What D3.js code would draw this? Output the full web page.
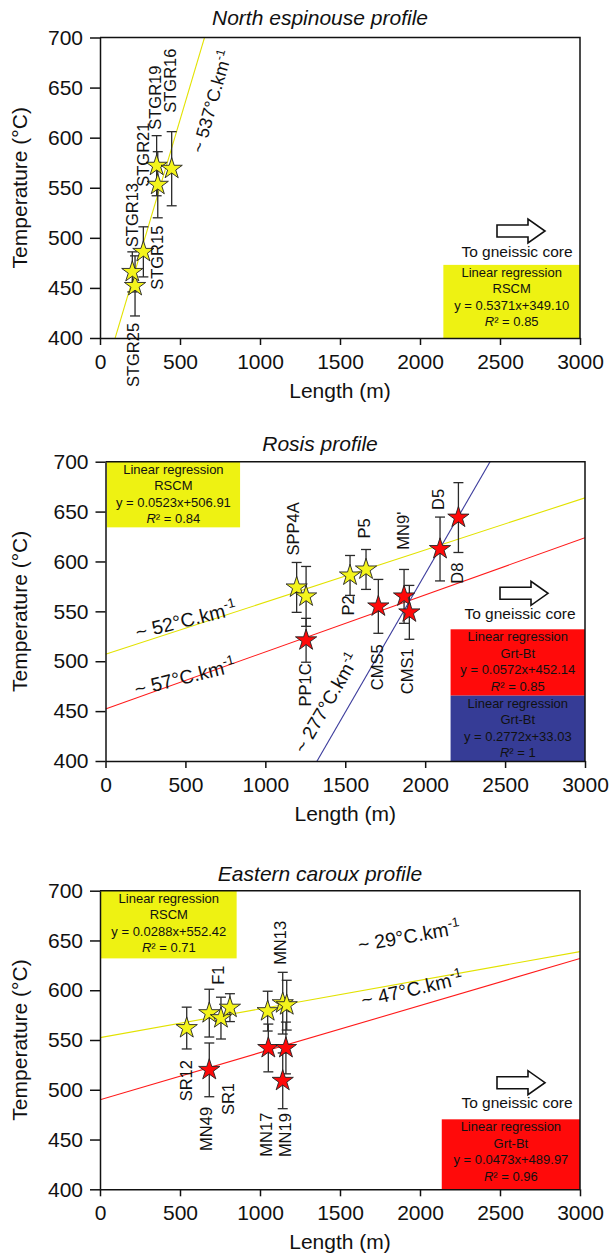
<!DOCTYPE html>
<html><head><meta charset="utf-8">
<script src="https://cdn.jsdelivr.net/npm/d3@7"></script>
<style>
body{margin:0;background:#fff}
svg{display:block}
</style>
</head><body>
<svg id="c" width="611" height="1257"></svg>
<script>
// ---------------- DATA ----------------
const tempTicks = [400, 450, 500, 550, 600, 650, 700];
const lengthTicks = [0, 500, 1000, 1500, 2000, 2500, 3000];

// Panel 1 : North espinouse profile (RSCM, yellow)
const p1YellowNames = ["STGR25", "STGR13", "STGR15", "STGR21", "STGR19", "STGR16"];
const p1YellowLen   = [219, 202, 271, 361, 354, 448];
const p1YellowT     = [452, 466, 486, 553, 572, 569];
const p1YellowErr   = [30, 20, 25, 33, 30, 37];

// Panel 2 : Rosis profile
const p2YellowNames = ["SPP4A", "", "P2", "P5"];
const p2YellowLen   = [1196, 1255, 1530, 1630];
const p2YellowT     = [574, 565, 586, 592];
const p2YellowErr   = [25, 30, 20, 20];
const p2RedNames    = ["PP1C", "CMS5", "MN9'", "CMS1", "D5", "D8"];
const p2RedLen      = [1255, 1707, 1868, 1901, 2093, 2208];
const p2RedT        = [521, 555, 565, 549, 612.5, 644];
const p2RedErr      = [22, 27, 27, 27, 32, 35];

// Panel 3 : Eastern caroux profile
const p3YellowNames = ["SR12", "", "F1", "SR1", "", "MN13", ""];
const p3YellowLen   = [542, 683, 756, 812, 1048, 1142, 1167];
const p3YellowT     = [562, 577, 572, 582.5, 579, 587, 585];
const p3YellowErr   = [21, 24, 21, 14, 20, 31, 25];
const p3RedNames    = ["MN49", "MN17", "", "MN19"];
const p3RedLen      = [683, 1052, 1162, 1142];
const p3RedT        = [520, 542, 542, 509];
const p3RedErr      = [27, 24, 26, 28];

// Regression fits shown in the chart (slope, intercept)
const p1Fits = [{a: 0.5371, b: 349.10, kind: "yellow"}];
const p2Fits = [{a: 0.0523, b: 506.91, kind: "yellow"}, {a: 0.0572, b: 452.14, kind: "red"}, {a: 0.2772, b: 33.03, kind: "blue"}];
const p3Fits = [{a: 0.0288, b: 552.42, kind: "yellow"}, {a: 0.0473, b: 489.97, kind: "red"}];

// Gradient annotations
const p1Grad = ["~ 537°C.km"];
const p2Grad = ["~ 52°C.km", "~ 57°C.km", "~ 277°C.km"];
const p3Grad = ["~ 29°C.km", "~ 47°C.km"];

// Regression boxes text
const p1Boxes = [["Linear regression", "RSCM", "y = 0.5371x+349.10", "0.85"]];
const p2Boxes = [["Linear regression", "RSCM", "y = 0.0523x+506.91", "0.84"],
                 ["Linear regression", "Grt-Bt", "y = 0.0572x+452.14", "0.85"],
                 ["Linear regression", "Grt-Bt", "y = 0.2772x+33.03", "1"]];
const p3Boxes = [["Linear regression", "RSCM", "y = 0.0288x+552.42", "0.71"],
                 ["Linear regression", "Grt-Bt", "y = 0.0473x+489.97", "0.96"]];

// ---------------- LAYOUT / STYLE ----------------
const FONT = '"Liberation Sans", Arial, Helvetica, sans-serif';
const COL = {
  yellowLine: "#e2e200", redLine: "#ff1a1a", blueLine: "#3b3b9c",
  yellowStar: "#f4f41c", redStar: "#ff0a0a",
  yellowBox: "#eef212", redBox: "#ff0a0a", blueBox: "#363c96"
};

// label offsets [dx, dy, anchor] relative to the star (rotated -90 text)
const p1YellowLab = [[-2, 37, "end"], [-0.6, -24.7, "start"], [13.4, 38, "start"], [-14.7, 2, "start"], [-1.7, -36, "start"], [-1.7, -56, "start"]];
const p2YellowLab = [[-3.4, -32, "start"], null, [-2, 20, "end"], [-2, -31, "start"]];
const p2RedLab    = [[-1, 23, "end"], [-1.6, 38, "end"], [-1.3, -46.7, "start"], [-2.6, 36, "end"], [-2, -39, "start"], [-1.6, 45, "end"]];
const p3YellowLab = [[-0.7, 32, "end"], null, [-3, -33.3, "start"], [-2, 75.3, "end"], null, [-2.7, -38.3, "start"], null];
const p3RedLab    = [[-2.6, 37, "end"], [-2.3, 64.7, "end"], null, [2.3, 32.3, "end"]];

const panels = [
  {id: 1, title: "North espinouse profile", titleY: 25, left: 100, right: 580, top: 37.5, bottom: 338,
   series: [{names: p1YellowNames, len: p1YellowLen, t: p1YellowT, err: p1YellowErr, lab: p1YellowLab, kind: "yellow"}],
   fits: p1Fits,
   grads: p1Grad, gradPos: [[211.7, 101.5, -74, 18]],
   boxes: p1Boxes, boxPos: [[2146, 3000, 473, 400, "yellow"]],
   arrow: {cx: 517, textY: 252, arrowDy: 21}},
  {id: 2, title: "Rosis profile", titleY: 451, left: 105.5, right: 585, top: 461.7, bottom: 761,
   series: [{names: p2YellowNames, len: p2YellowLen, t: p2YellowT, err: p2YellowErr, lab: p2YellowLab, kind: "yellow"},
            {names: p2RedNames, len: p2RedLen, t: p2RedT, err: p2RedErr, lab: p2RedLab, kind: "red"}],
   fits: p2Fits,
   grads: p2Grad, gradPos: [[186, 620, -14, 19.5], [185, 677, -14, 19.5], [326.5, 703, -60, 19]],
   boxes: p2Boxes, boxPos: [[7.5, 842, 700, 634.2, "yellow"], [2159, 3000, 532, 465.5, "red"], [2159, 3000, 465.5, 400, "blue"]],
   arrow: {cx: 520, textY: 613.3, arrowDy: 20}},
  {id: 3, title: "Eastern caroux profile", titleY: 881, left: 100, right: 580, top: 890.7, bottom: 1189.3,
   series: [{names: p3YellowNames, len: p3YellowLen, t: p3YellowT, err: p3YellowErr, lab: p3YellowLab, kind: "yellow"},
            {names: p3RedNames, len: p3RedLen, t: p3RedT, err: p3RedErr, lab: p3RedLab, kind: "red"}],
   fits: p3Fits,
   grads: p3Grad, gradPos: [[409, 936, -10, 19.5], [412, 989, -13, 19.5]],
   boxes: p3Boxes, boxPos: [[6, 854, 700, 632, "yellow"], [2136, 3000, 470.3, 400, "red"]],
   arrow: {cx: 517, textY: 1102.7, arrowDy: 20}}
];

// ---------------- DRAW ----------------
const svg = d3.select("#c").attr("font-family", FONT);
const star = d3.symbol().type(d3.symbolStar).size(140);

panels.forEach(cfg => {
  const x = d3.scaleLinear().domain([0, 3000]).range([cfg.left, cfg.right]);
  const y = d3.scaleLinear().domain([400, 700]).range([cfg.bottom, cfg.top]);
  const g = svg.append("g");
  const clipId = "clip" + cfg.id;
  svg.append("clipPath").attr("id", clipId).append("rect")
    .attr("x", cfg.left).attr("y", cfg.top).attr("width", cfg.right - cfg.left).attr("height", cfg.bottom - cfg.top);

  // title
  g.append("text").attr("x", 320).attr("y", cfg.titleY).attr("text-anchor", "middle")
    .attr("font-size", 21).attr("font-style", "italic").attr("fill", "#111").text(cfg.title);

  // boxes
  cfg.boxes.forEach((lines, i) => {
    const [x0, x1, t1, t0, kind] = cfg.boxPos[i];
    const bx = x(x0), bw = x(x1) - x(x0), by = y(t1), bh = y(t0) - y(t1);
    g.append("rect").attr("x", bx).attr("y", by).attr("width", bw).attr("height", bh)
      .attr("fill", COL[kind + "Box"]);
    const tx = bx + bw / 2;
    lines.forEach((ln, j) => {
      const t = g.append("text").attr("x", tx).attr("y", by + 7.5 + j * 16.5 + 4.6)
        .attr("text-anchor", "middle").attr("font-size", 13).attr("fill", "#111");
      if (j === 3) {
        t.append("tspan").attr("font-style", "italic").text("R");
        t.append("tspan").text("² = " + ln);
      } else t.text(ln);
    });
  });

  // regression lines
  const lg = g.append("g").attr("clip-path", `url(#${clipId})`);
  cfg.fits.forEach(f => {
    lg.append("line")
      .attr("x1", x(0)).attr("y1", y(f.b))
      .attr("x2", x(3000)).attr("y2", y(f.a * 3000 + f.b))
      .attr("stroke", COL[f.kind + "Line"]).attr("stroke-width", 1.1);
  });

  // gradient labels
  cfg.grads.forEach((gr, i) => {
    const [cx, cy, ang, fs] = cfg.gradPos[i];
    const t = g.append("text").attr("transform", `translate(${cx},${cy}) rotate(${ang})`)
      .attr("text-anchor", "middle").attr("dy", "0.35em").attr("font-size", fs).attr("fill", "#111");
    t.append("tspan").text(gr);
    t.append("tspan").attr("font-size", fs * 0.68).attr("dy", "-0.6em").text("-1");
  });

  // arrow "To gneissic core"
  const ar = cfg.arrow;
  const ay = ar.textY - ar.arrowDy, al = ar.cx - 20, ab = ar.cx + 11, at = ar.cx + 28;
  g.append("path")
    .attr("d", `M${al},${ay - 6}L${ab},${ay - 6}L${ab},${ay - 12}L${at},${ay}L${ab},${ay + 12}L${ab},${ay + 6}L${al},${ay + 6}Z`)
    .attr("fill", "#fff").attr("stroke", "#111").attr("stroke-width", 1.6).attr("stroke-linejoin", "miter");
  g.append("text").attr("x", ar.cx).attr("y", ar.textY).attr("dy", "0.35em").attr("text-anchor", "middle")
    .attr("font-size", 15.5).attr("fill", "#111").text("To gneissic core");

  // points
  cfg.series.forEach(s => {
    const pts = s.len.map((l, i) => ({len: l, t: s.t[i], err: s.err[i], name: s.names[i], lab: s.lab[i]}));
    const eb = g.append("g").attr("stroke", "#2a2a2a").attr("stroke-width", 1.3);
    pts.forEach(d => {
      const px = x(d.len);
      eb.append("line").attr("x1", px).attr("x2", px).attr("y1", y(d.t - d.err)).attr("y2", y(d.t + d.err));
      eb.append("line").attr("x1", px - 5).attr("x2", px + 5).attr("y1", y(d.t - d.err)).attr("y2", y(d.t - d.err));
      eb.append("line").attr("x1", px - 5).attr("x2", px + 5).attr("y1", y(d.t + d.err)).attr("y2", y(d.t + d.err));
    });
    g.append("g").selectAll("path").data(pts).join("path")
      .attr("d", star)
      .attr("transform", d => `translate(${x(d.len)},${y(d.t)})`)
      .attr("fill", COL[s.kind + "Star"]).attr("stroke", "#222").attr("stroke-width", 0.9);
    pts.filter(d => d.name && d.lab).forEach(d => {
      const [dx, dy, anc] = d.lab;
      g.append("text")
        .attr("transform", `translate(${x(d.len) + dx},${y(d.t) + dy}) rotate(-90)`)
        .attr("text-anchor", anc).attr("dy", "0.35em").attr("font-size", 16.5).attr("fill", "#111")
        .text(d.name);
    });
  });

  // axes
  const yAxis = d3.axisLeft(y).tickValues(tempTicks).tickSize(10).tickSizeOuter(0).tickPadding(7);
  const xAxis = d3.axisBottom(x).tickValues(lengthTicks).tickSize(7).tickSizeOuter(0).tickPadding(9).tickFormat(d3.format("d"));
  const style = s => {
    s.attr("font-size", 21).attr("font-family", FONT);
    s.selectAll("text").attr("fill", "#111");
    s.selectAll("line,path").attr("stroke", "#111").attr("stroke-width", 1.5);
  };
  g.append("g").attr("transform", `translate(${cfg.left},0)`).call(yAxis).call(style);
  g.append("g").attr("transform", `translate(0,${cfg.bottom})`).call(xAxis).call(style);
  // frame top and right
  g.append("path").attr("d", `M${cfg.left},${cfg.top}L${cfg.right},${cfg.top}L${cfg.right},${cfg.bottom}`)
    .attr("fill", "none").attr("stroke", "#111").attr("stroke-width", 1.5);

  // axis titles
  g.append("text").attr("transform", `translate(20,${(cfg.top + cfg.bottom) / 2}) rotate(-90)`)
    .attr("text-anchor", "middle").attr("dy", "0.35em").attr("font-size", 21).attr("fill", "#111")
    .text("Temperature (°C)");
  g.append("text").attr("x", (cfg.left + cfg.right) / 2).attr("y", cfg.bottom + 60)
    .attr("text-anchor", "middle").attr("font-size", 21).attr("fill", "#111").text("Length (m)");
});
</script>
</body></html>
